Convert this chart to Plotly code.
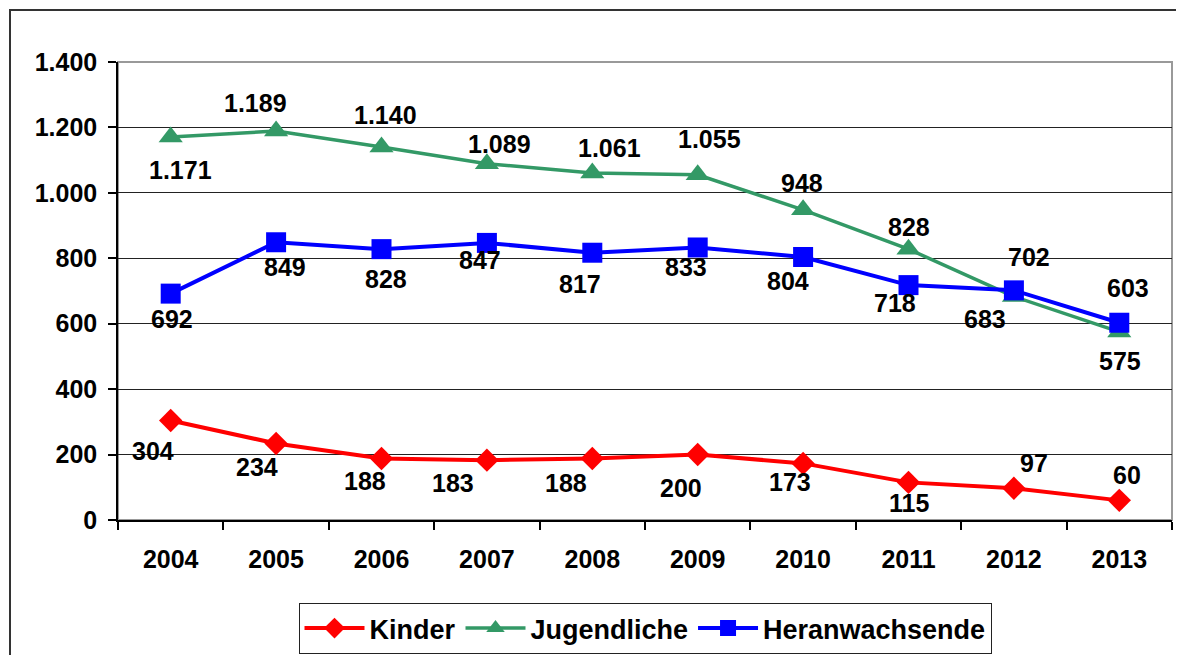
import plotly.graph_objects as go

years = ["2004", "2005", "2006", "2007", "2008", "2009", "2010", "2011", "2012", "2013"]
kinder = [304, 234, 188, 183, 188, 200, 173, 115, 97, 60]
jugendliche = [1171, 1189, 1140, 1089, 1061, 1055, 948, 828, 683, 575]
heranwachsende = [692, 849, 828, 847, 817, 833, 804, 718, 702, 603]
y_ticks = [0, 200, 400, 600, 800, 1000, 1200, 1400]

# label placement offsets (px) relative to each point
k_off = [(-18, -30), (-19, -24), (-17, -22), (-34, -23), (-26, -24), (-17, -33), (-13, -19), (0, -21), (20, 25), (8, 25)]
j_off = [(10, -33), (-21, 28), (4, 32), (13, 20), (17, 25), (12, 36), (-1, 27), (0, 22), (-29, -22), (1, -29)]
h_off = [(1, -25), (9, -25), (4, -30), (-7, -17), (-12, -31), (-12, -20), (-15, -24), (-14, -18), (15, 33), (9, 35)]

FONT = "Liberation Sans, Arial, sans-serif"
PAGE_OFF = 8  # default body margin of the html page
W, H = 1184 - PAGE_OFF, 655 - PAGE_OFF
L, R, T, B = 118 - PAGE_OFF, 1172 - PAGE_OFF, 62 - PAGE_OFF, 520 - PAGE_OFF

def fmt(v):
    return f"{v:,}".replace(",", ".")

def px_x(p):
    return (p - PAGE_OFF - L) / (R - L)

def px_y(p):
    return (B - (p - PAGE_OFF)) / (B - T)

fig = go.Figure()
series = [
    ("Kinder", kinder, "#FF0000", "diamond", 18, 4, k_off),
    ("Jugendliche", jugendliche, "#339966", "triangle-up", 21, 3.5, j_off),
    ("Heranwachsende", heranwachsende, "#0000FF", "square", 20, 4, h_off),
]
annotations = []
for name, vals, col, sym, msize, lw, offs in series:
    fig.add_trace(go.Scatter(
        x=years, y=vals, name=name, mode="lines+markers",
        line=dict(color=col, width=lw),
        marker=dict(symbol=sym, size=msize, color=col, line=dict(width=0)),
    ))
    for i, (v, (dx, dy)) in enumerate(zip(vals, offs)):
        annotations.append(dict(
            x=i, y=v, xref="x", yref="y", text=fmt(v), showarrow=False,
            xshift=dx, yshift=dy,
            font=dict(family=FONT, size=25, color="black", weight="bold"),
        ))

shapes = [
    # outer chart frame
    dict(type="rect", xref="paper", yref="paper",
         x0=px_x(10), x1=px_x(1200), y0=px_y(670), y1=px_y(10),
         line=dict(color="#333333", width=2), layer="below"),
    # plot area border
    dict(type="rect", xref="paper", yref="paper",
         x0=0, x1=1, y0=0, y1=1,
         line=dict(color="#999999", width=2), layer="below"),
]

fig.update_layout(
    width=W, height=H,
    margin=dict(l=L, r=W - R, t=T, b=H - B, autoexpand=False),
    paper_bgcolor="white", plot_bgcolor="white",
    font=dict(family=FONT, size=25, color="black", weight="bold"),
    separators=",.",
    showlegend=True,
    legend=dict(
        orientation="h", x=0.5, xanchor="center", y=px_y(603), yanchor="top",
        bordercolor="#222222", borderwidth=1, bgcolor="white",
        font=dict(family=FONT, size=27, color="black", weight="bold"),
        itemwidth=60, tracegroupgap=0,
    ),
    annotations=annotations,
    shapes=shapes,
    xaxis=dict(
        type="category", categoryorder="array", categoryarray=years,
        showline=True, linecolor="black", linewidth=1.5,
        ticks="outside", tickson="boundaries", ticklen=8, tickcolor="black", tickwidth=1.5,
        showgrid=False, ticklabelstandoff=16,
        tickfont=dict(family=FONT, size=25, color="black", weight="bold"),
        range=[-0.5, 9.5], fixedrange=True,
    ),
    yaxis=dict(
        range=[0, 1400], tickvals=y_ticks, tickformat=",d",
        showline=True, linecolor="black", linewidth=1.5,
        ticks="outside", ticklen=8, tickcolor="black", tickwidth=1.5,
        showgrid=True, gridcolor="#222222", gridwidth=1,
        zeroline=False, ticklabelstandoff=6,
        tickfont=dict(family=FONT, size=25, color="black", weight="bold"),
        fixedrange=True,
    ),
)

fig.write_html("out.html")
